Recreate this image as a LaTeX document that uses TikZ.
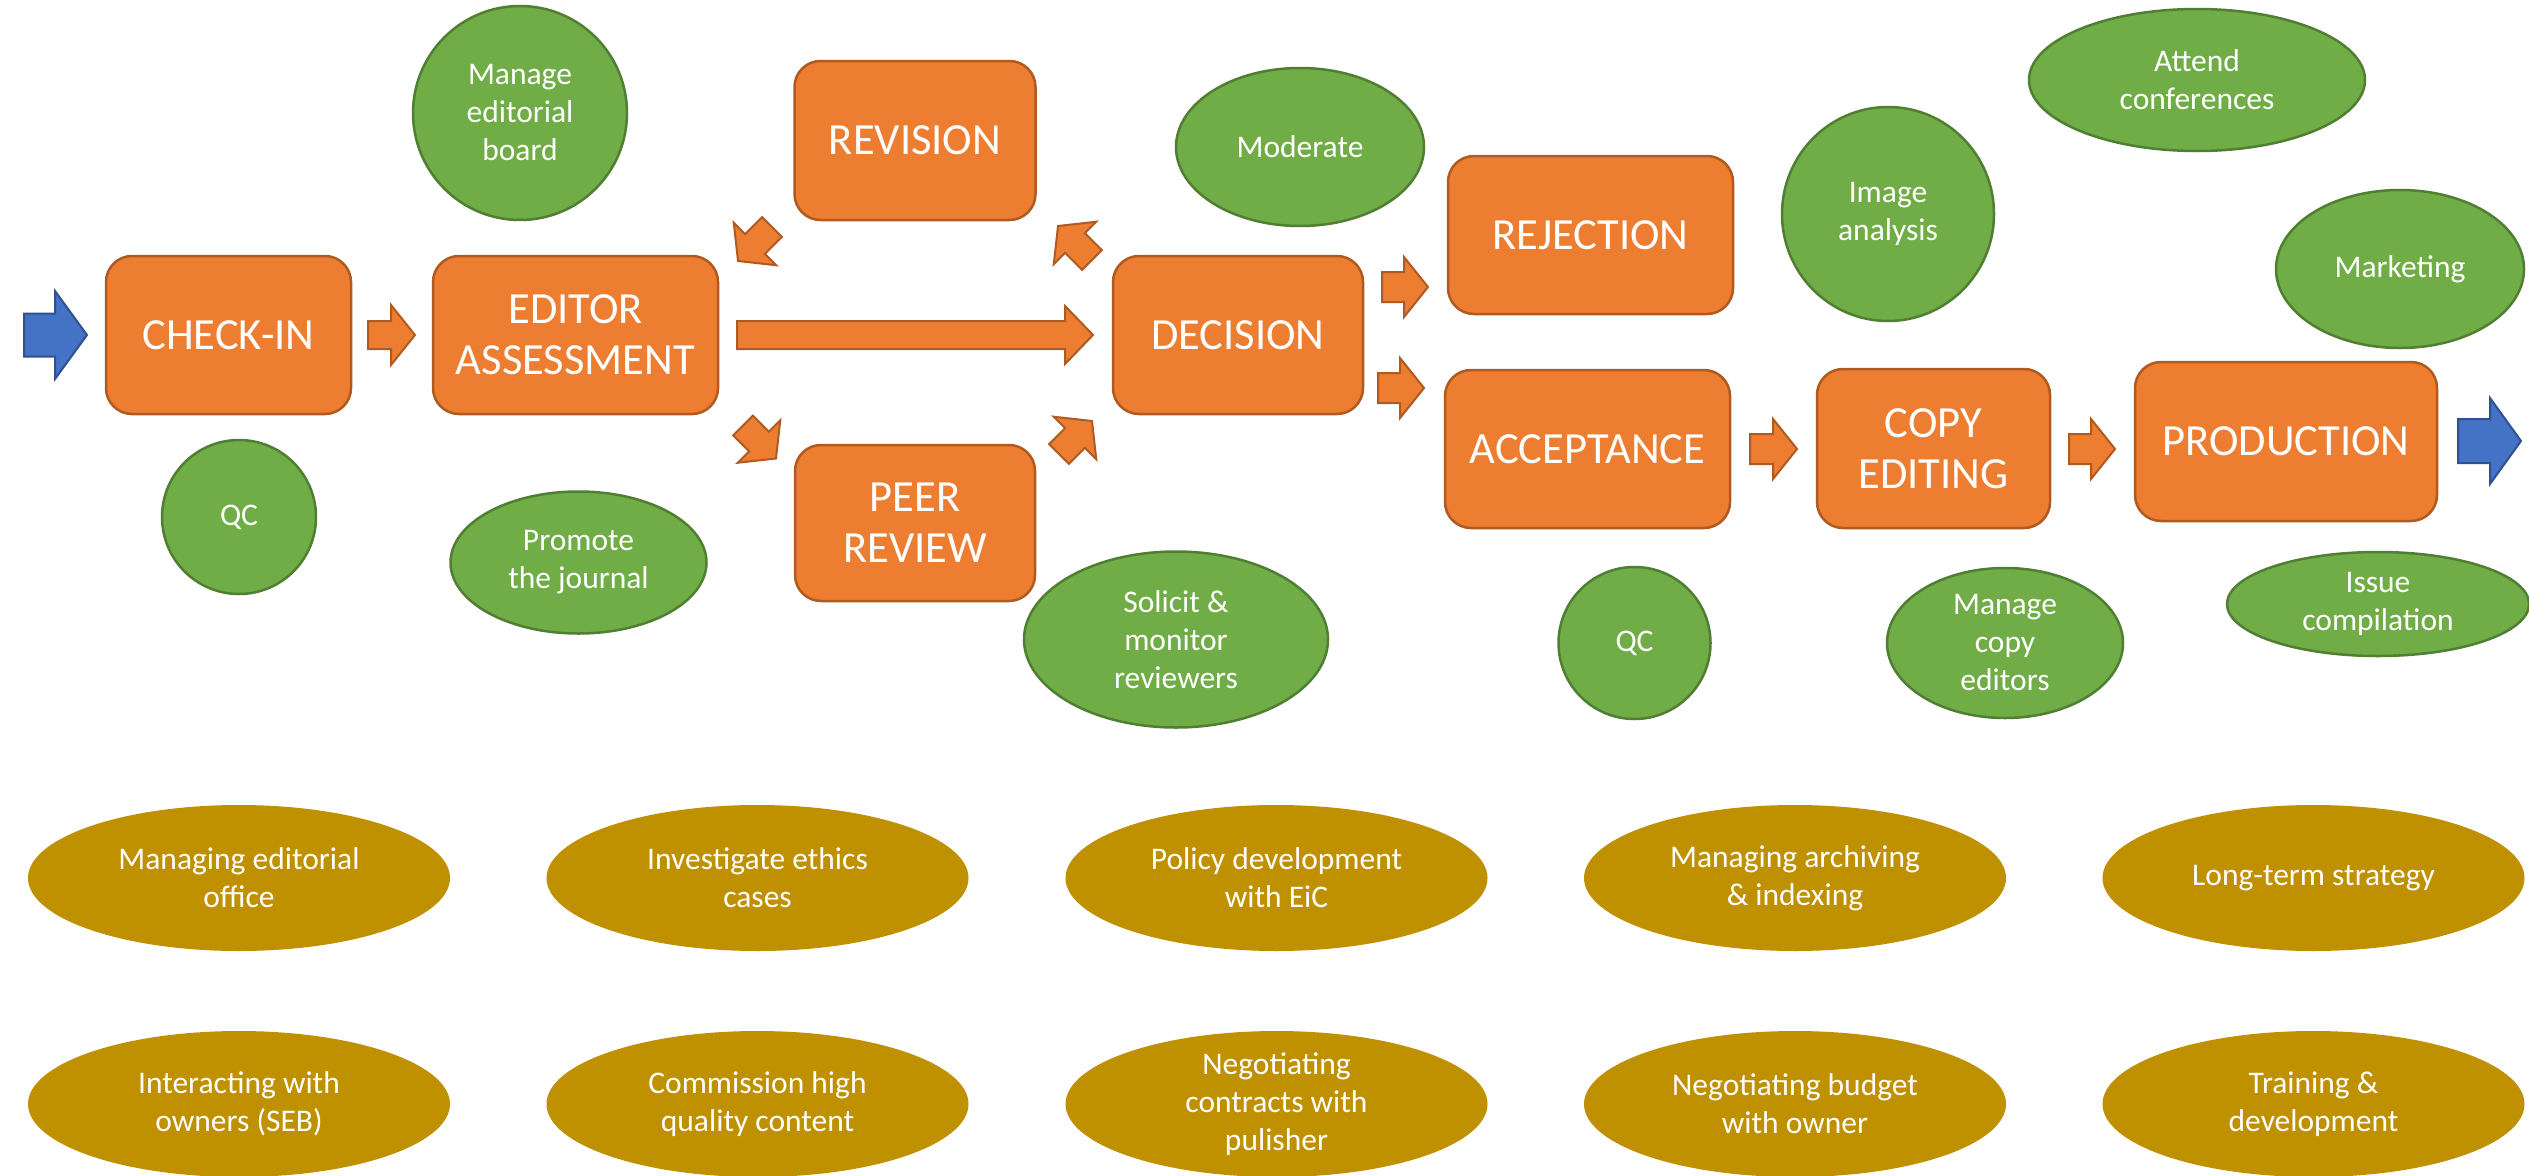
\documentclass[tikz,border=0pt]{standalone}
\usepackage{fontspec}
\setmainfont{Carlito}
\usetikzlibrary{calc,shapes.geometric}
\definecolor{orfill}{HTML}{ED7D31}
\definecolor{ordraw}{HTML}{AE5A21}
\definecolor{grfill}{HTML}{70AD47}
\definecolor{grdraw}{HTML}{507E32}
\definecolor{blfill}{HTML}{4472C4}
\definecolor{bldraw}{HTML}{2F528F}
\definecolor{goldfill}{HTML}{BF9000}
\tikzset{
  stage/.style={rectangle, draw=ordraw, fill=orfill, line width=2.5pt, rounded corners=26pt,
    text=white, font=\fontsize{44.5}{51}\selectfont, align=center, inner sep=0pt},
  task/.style={ellipse, draw=grdraw, fill=grfill, line width=2.5pt, text=white,
    font=\fontsize{31.5}{38}\selectfont, align=center, inner sep=-25pt},
  duty/.style={ellipse, fill=goldfill, text=white, font=\fontsize{31.5}{38}\selectfont,
    align=center, inner sep=-25pt, minimum width=422pt, minimum height=146pt},
  oarrow/.style={draw=ordraw, fill=orfill, line width=2pt, line join=miter},
  barrow/.style={draw=bldraw, fill=blfill, line width=2pt, line join=miter},
}
% #1 style, #2 tail coordinate, #3 tip coordinate, #4 half shaft, #5 half head, #6 head length
\newcommand{\blockarrow}[6]{%
  \coordinate (hb) at ($(#3)!#6!(#2)$);
  \path[#1] ($(#2)!#4!-90:(#3)$) -- ($(hb)!#4!-90:(#3)$) -- ($(hb)!#5!-90:(#3)$) -- (#3)
    -- ($(hb)!#5!90:(#3)$) -- ($(hb)!#4!90:(#3)$) -- ($(#2)!#4!90:(#3)$) -- cycle;
}
\begin{document}
\begin{tikzpicture}[x=1pt,y=-1pt]
\fill[white] (0,0) rectangle (2529,1175);
\useasboundingbox (0,0) rectangle (2529,1175);

% process stages
\node[stage, minimum width=245pt, minimum height=158pt] (check) at (228.5,335) {CHECK-IN};
\node[stage, minimum width=285pt, minimum height=158pt] (editor) at (575.5,335) {EDITOR\\ASSESSMENT};
\node[stage, minimum width=241pt, minimum height=159pt] (revision) at (915,140.5) {REVISION};
\node[stage, minimum width=240pt, minimum height=156pt] (peer) at (915,523) {PEER\\REVIEW};
\node[stage, minimum width=250pt, minimum height=158pt] (decision) at (1238,335) {DECISION};
\node[stage, minimum width=285pt, minimum height=158pt] (rejection) at (1590.5,235) {REJECTION};
\node[stage, minimum width=285pt, minimum height=158pt] (acceptance) at (1587.5,449) {ACCEPTANCE};
\node[stage, minimum width=233pt, minimum height=159pt] (copyedit) at (1933.5,448.5) {COPY\\EDITING};
\node[stage, minimum width=302pt, minimum height=159pt] (production) at (2286,441.5) {PRODUCTION};

% arrow end points
\coordinate (in0) at (24,335);      \coordinate (in1) at (87,335);
\coordinate (ce0) at (368,335);     \coordinate (ce1) at (415,335);
\coordinate (ed0) at (737,335);     \coordinate (ed1) at (1093,335);
\coordinate (re0) at (772,227);     \coordinate (re1) at (738,261);
\coordinate (ep0) at (743,425.5);   \coordinate (ep1) at (776,458.5);
\coordinate (pd0) at (1059,454);    \coordinate (pd1) at (1092,421);
\coordinate (dr0) at (1092,260);    \coordinate (dr1) at (1058,226);
\coordinate (dj0) at (1382,287);    \coordinate (dj1) at (1428,287);
\coordinate (da0) at (1378,388);    \coordinate (da1) at (1424,388);
\coordinate (ac0) at (1750,449);    \coordinate (ac1) at (1797,449);
\coordinate (cp0) at (2069,449);    \coordinate (cp1) at (2115,449);
\coordinate (out0) at (2458,441);   \coordinate (out1) at (2521,441);

\blockarrow{barrow}{in0}{in1}{21.5pt}{44pt}{32pt}
\blockarrow{oarrow}{ce0}{ce1}{14pt}{30pt}{24pt}
\blockarrow{oarrow}{ed0}{ed1}{14pt}{29pt}{28pt}
\blockarrow{oarrow}{re0}{re1}{14pt}{30pt}{24pt}
\blockarrow{oarrow}{ep0}{ep1}{14pt}{30pt}{24pt}
\blockarrow{oarrow}{pd0}{pd1}{14pt}{30pt}{24pt}
\blockarrow{oarrow}{dr0}{dr1}{14pt}{30pt}{24pt}
\blockarrow{oarrow}{dj0}{dj1}{15pt}{30pt}{24pt}
\blockarrow{oarrow}{da0}{da1}{15pt}{30pt}{24pt}
\blockarrow{oarrow}{ac0}{ac1}{15pt}{30pt}{24pt}
\blockarrow{oarrow}{cp0}{cp1}{15pt}{30pt}{24pt}
\blockarrow{barrow}{out0}{out1}{22pt}{43pt}{31pt}

% green task ellipses
\node[task, minimum width=214pt, minimum height=214pt] (board) at (520,113) {Manage\\editorial\\board};
\node[task, minimum width=154pt, minimum height=154pt] (qc1) at (239,517) {QC};
\node[task, minimum width=256pt, minimum height=142pt] (promote) at (578.5,562.5) {Promote\\the journal};
\node[task, minimum width=248pt, minimum height=158pt] (moderate) at (1300,147) {Moderate};
\node[task, minimum width=304pt, minimum height=176pt] (solicit) at (1176,639.5) {Solicit \&\\monitor\\reviewers};
\node[task, minimum width=152pt, minimum height=152pt] (qc2) at (1634.5,643) {QC};
\node[task, minimum width=212pt, minimum height=214pt] (image) at (1888,214) {Image\\analysis};
\node[task, minimum width=336pt, minimum height=142pt] (attend) at (2197,80) {Attend\\conferences};
\node[task, minimum width=248pt, minimum height=158pt] (marketing) at (2400,269) {Marketing};
\node[task, minimum width=236pt, minimum height=150pt] (copyeds) at (2005,643) {Manage\\copy\\editors};
\node[task, minimum width=302pt, minimum height=104pt] (issue) at (2378,604) {Issue\\compilation};

% gold duty ellipses
\node[duty] (g11) at (239,878) {Managing editorial\\office};
\node[duty] (g12) at (757.5,878) {Investigate ethics\\cases};
\node[duty] (g13) at (1276.5,878) {Policy development\\with EiC};
\node[duty] (g14) at (1795,878) {Managing archiving\\\& indexing};
\node[duty] (g15) at (2313.5,878) {Long-term strategy};
\node[duty] (g21) at (239,1104) {Interacting with\\owners (SEB)};
\node[duty] (g22) at (757.5,1104) {Commission high\\quality content};
\node[duty] (g23) at (1276.5,1104) {Negotiating\\contracts with\\pulisher};
\node[duty] (g24) at (1795,1104) {Negotiating budget\\with owner};
\node[duty] (g25) at (2313.5,1104) {Training \&\\development};
\end{tikzpicture}
\end{document}
